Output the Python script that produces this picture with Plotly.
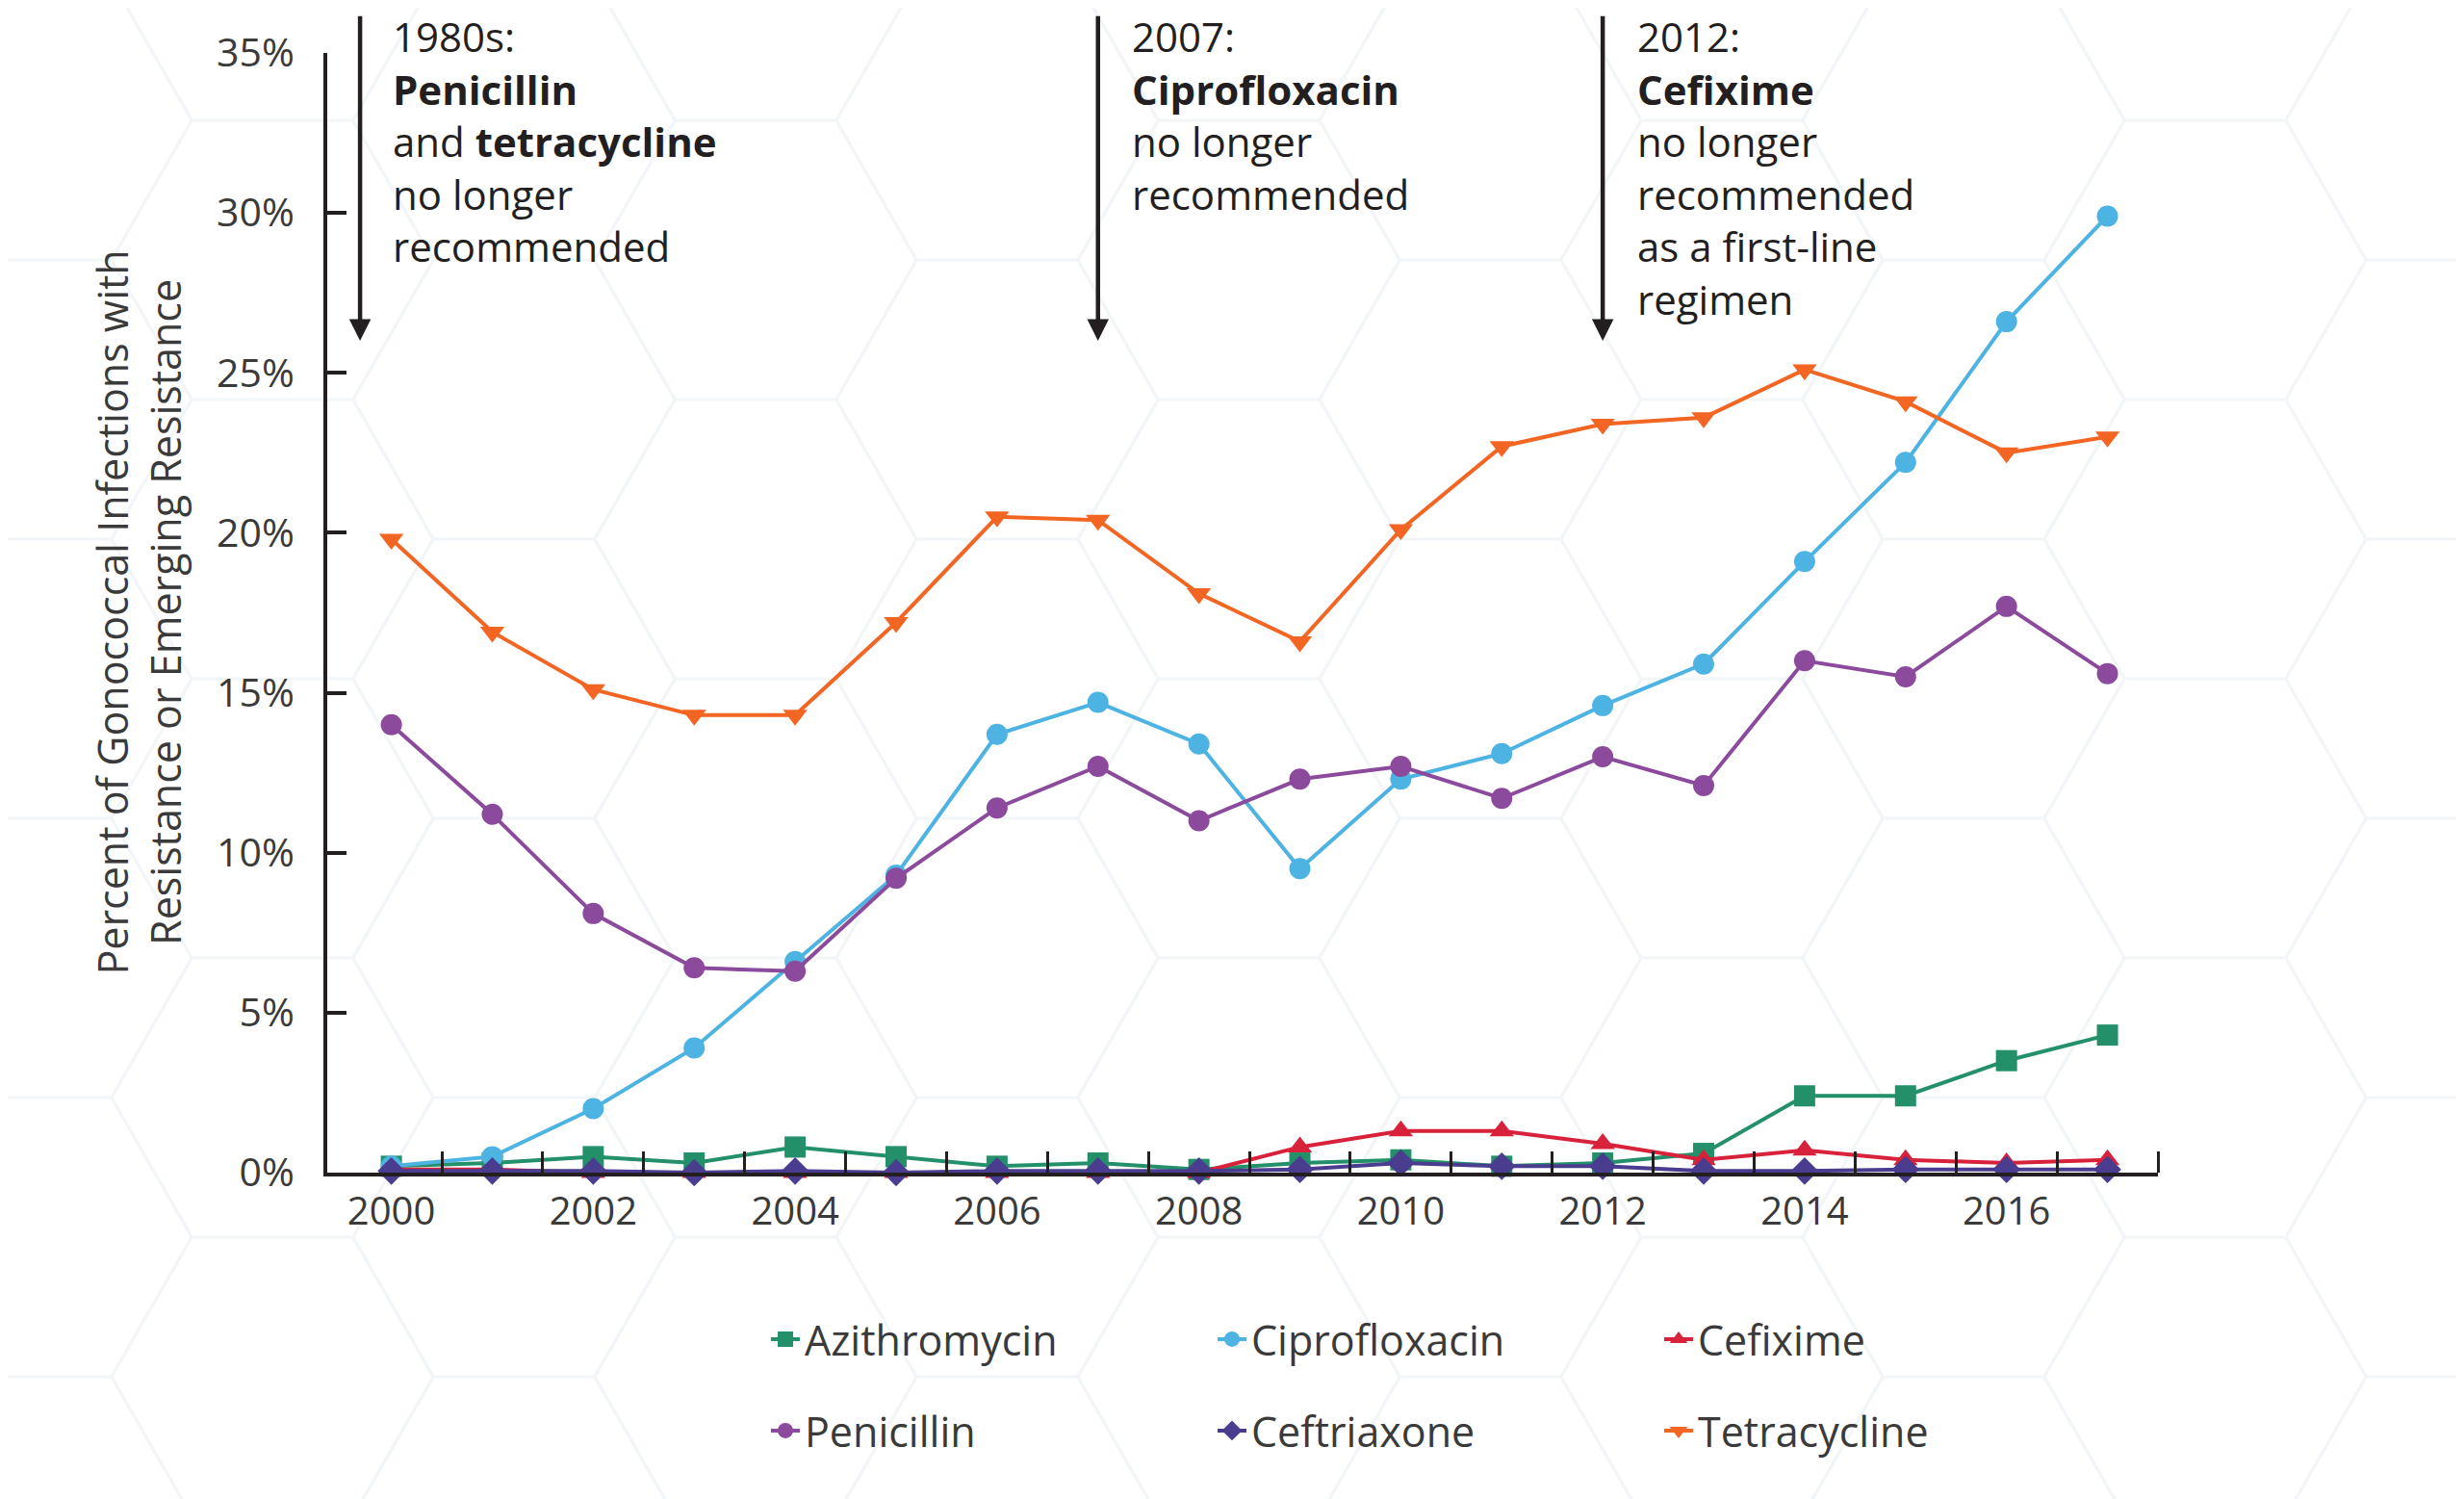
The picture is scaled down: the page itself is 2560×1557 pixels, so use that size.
import plotly.graph_objects as go

years = list(range(2000, 2018))

azithromycin = [0.2, 0.3, 0.5, 0.3, 0.8, 0.5, 0.2, 0.3, 0.1, 0.3, 0.4, 0.2, 0.3, 0.6, 2.4, 2.4, 3.5, 4.3]
ciprofloxacin = [0.2, 0.5, 2.0, 3.9, 6.6, 9.3, 13.7, 14.7, 13.4, 9.5, 12.3, 13.1, 14.6, 15.9, 19.1, 22.2, 26.6, 29.9]
cefixime = [0.1, 0.1, 0.0, 0.0, 0.0, 0.0, 0.0, 0.0, 0.0, 0.8, 1.3, 1.3, 0.9, 0.4, 0.7, 0.4, 0.3, 0.4]
penicillin = [14.0, 11.2, 8.1, 6.4, 6.3, 9.2, 11.4, 12.7, 11.0, 12.3, 12.7, 11.7, 13.0, 12.1, 16.0, 15.5, 17.7, 15.6]
ceftriaxone = [0.05, 0.05, 0.05, 0.0, 0.05, 0.0, 0.05, 0.05, 0.05, 0.1, 0.3, 0.2, 0.2, 0.05, 0.05, 0.1, 0.1, 0.1]
tetracycline = [19.8, 16.9, 15.1, 14.3, 14.3, 17.2, 20.5, 20.4, 18.1, 16.6, 20.1, 22.7, 23.4, 23.6, 25.1, 24.1, 22.5, 23.0]

series = [
    ("Azithromycin", azithromycin, "#23906A", "square", "legend"),
    ("Ciprofloxacin", ciprofloxacin, "#4DB3E3", "circle", "legend"),
    ("Cefixime", cefixime, "#D8213B", "triangle-up", "legend"),
    ("Penicillin", penicillin, "#8B4A9C", "circle", "legend2"),
    ("Ceftriaxone", ceftriaxone, "#4A3D8F", "diamond", "legend2"),
    ("Tetracycline", tetracycline, "#F26522", "triangle-down", "legend2"),
]

tick_years = [2000, 2002, 2004, 2006, 2008, 2010, 2012, 2014, 2016]
y_ticks = [0, 5, 10, 15, 20, 25, 30, 35]

events = [
    (1999.69, 2000.0, "1980s:<br><b>Penicillin</b><br>and <b>tetracycline</b><br>no longer<br>recommended"),
    (2007.0, 2007.33, "2007:<br><b>Ciprofloxacin</b><br>no longer<br>recommended"),
    (2012.0, 2012.33, "2012:<br><b>Cefixime</b><br>no longer<br>recommended<br>as a first-line<br>regimen"),
]

FONT = "Open Sans"
DARK = "#231F20"
TXT = "#3A3A3A"

W, H = 2560, 1557
L, R, T, B = 332, 326, 47, 347
PW, PH = W - L - R, H - T - B

fig = go.Figure()
for name, vals, color, sym, leg in series:
    fig.add_trace(go.Scatter(
        x=years, y=vals, name=name, mode="lines+markers",
        line=dict(color=color, width=4),
        marker=dict(symbol=sym, size=22, color=color),
        cliponaxis=False, legend=leg,
    ))

# faint honeycomb background (decorative)
s = 167.0
h = 290.0
colsp = 251.0
cx0, cy0 = 2032.0, 697.0
parts = []
for i in range(-9, 4):
    cx = cx0 + i * colsp
    for j in range(-4, 5):
        cy = cy0 + j * h + (h / 2 if i % 2 else 0)
        pts = [(cx + s, cy), (cx + s / 2, cy + h / 2), (cx - s / 2, cy + h / 2),
               (cx - s, cy), (cx - s / 2, cy - h / 2), (cx + s / 2, cy - h / 2)]
        conv = [((px - L) / PW, (H - B - py) / PH) for px, py in pts]
        parts.append("M" + " L".join(f"{a:.4f},{b:.4f}" for a, b in conv) + " Z")
fig.add_shape(type="path", xref="paper", yref="paper", path=" ".join(parts),
              line=dict(color="#F3F6F8", width=3), layer="below")

annotations = []
for ax_x, tx, text in events:
    annotations.append(dict(
        x=ax_x, y=26.0, ax=ax_x, ay=36.2, xref="x", yref="y", axref="x", ayref="y",
        showarrow=True, arrowhead=2, arrowsize=1.0, arrowwidth=4.5, arrowcolor=DARK, text="",
    ))
    annotations.append(dict(
        x=tx, y=(H - B) / PH, xref="x", yref="paper", xanchor="left", yanchor="top", align="left",
        showarrow=False, text=text, borderpad=0, font=dict(family=FONT, size=42, color=DARK),
    ))
annotations.append(dict(
    x=(136 - L) / PW, y=0.5, xref="paper", yref="paper", textangle=-90,
    xanchor="center", yanchor="middle", showarrow=False,
    text="Percent of Gonococcal Infections with<br>Resistance or Emerging Resistance",
    font=dict(family=FONT, size=43, color=TXT),
))

leg_common = dict(orientation="h", xanchor="left", yanchor="middle",
                  entrywidth=419, entrywidthmode="pixels",
                  font=dict(family=FONT, size=43, color=TXT),
                  bgcolor="rgba(0,0,0,0)", traceorder="normal")

fig.update_layout(
    width=W, height=H,
    margin=dict(l=L, r=R, t=T, b=B),
    paper_bgcolor="white", plot_bgcolor="rgba(0,0,0,0)",
    font=dict(family=FONT, size=38, color=TXT),
    annotations=annotations,
    showlegend=True,
    legend=dict(x=(788 - L) / PW, y=(H - B - 1383) / PH, **leg_common),
    legend2=dict(x=(788 - L) / PW, y=(H - B - 1478) / PH, **leg_common),
)
fig.update_xaxes(
    range=[1999.365, 2017.5], showgrid=False, zeroline=False,
    showline=True, linecolor=DARK, linewidth=4,
    tickmode="array", tickvals=tick_years, ticktext=[str(v) for v in tick_years],
    ticks="", ticklabelstandoff=2,
    tickfont=dict(family=FONT, size=40, color=TXT),
    minor=dict(tickmode="array", tickvals=[y + 0.5 for y in years], ticks="inside",
               ticklen=22, tickwidth=3, tickcolor=DARK, showgrid=False),
)
fig.update_yaxes(
    range=[0, 35], showgrid=False, zeroline=False,
    showline=True, linecolor=DARK, linewidth=4,
    tickmode="array", tickvals=y_ticks, ticktext=[f"{v}%" for v in y_ticks],
    ticks="inside", ticklen=20, tickwidth=4, tickcolor=DARK,
    ticklabelstandoff=22,
    tickfont=dict(family=FONT, size=41, color=TXT),
)

fig.write_html("out.html")
